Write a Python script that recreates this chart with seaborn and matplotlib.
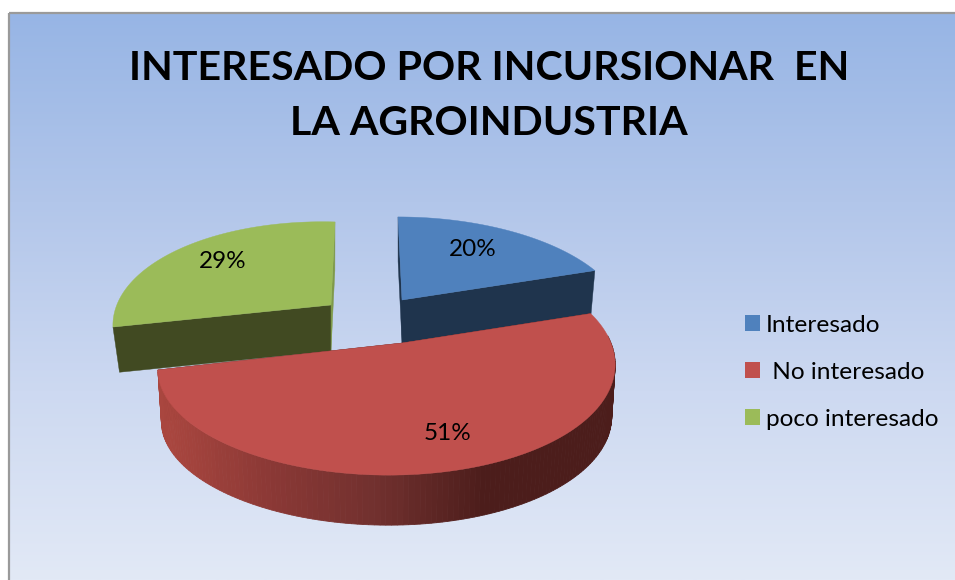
import numpy as np
import matplotlib
matplotlib.use("Agg")
import matplotlib.pyplot as plt
from matplotlib.patches import Patch, Rectangle
import seaborn as sns

categories = ["Interesado", " No interesado", "poco interesado"]
values = [20, 51, 29]
labels = ["20%", "51%", "29%"]
title = "INTERESADO POR INCURSIONAR  EN\nLA AGROINDUSTRIA"
top_colors = ["#4f81bd", "#c0504d", "#9bbb59"]
side_colors = ["#1f344d", "#4c1d1b", "#414a22"]
back_colors = ["#1f344d", "#4c1d1b", "#7f9a4a"]

# layout of the exploded perspective pie (pixels)
apex = [(402, 300), (402, 343), (331, 305)]
center = [(402, 300), (388.5, 343), (331, 305)]
radius_x = [218, 222.5, 212]
radius_y = [102, 102, 102]
skew = [-2, 11, 2]
tilt = [0, 0, 5]
depth = [43, 52, 46]
shrink = [0.98, 0.985, 0.97]
PERSP = 0.228

sns.set_theme(style="white")
plt.rcParams["font.family"] = ["Lato", "DejaVu Sans"]

fig = plt.figure(figsize=(9.55, 5.8), dpi=100, facecolor="white")
ax = fig.add_axes([0, 0, 1, 1])
ax.axis("off")

# background gradient with frame
grad = np.linspace(0, 1, 256)[:, None]
cmap = sns.blend_palette(["#97b5e5", "#b2c6ea", "#cdd9f1", "#e2e9f6"], as_cmap=True)
ax.imshow(grad, extent=(9, 955, 580, 13), cmap=cmap, aspect="auto", zorder=0)
ax.add_patch(Rectangle((8.5, 12.5), 950, 570, fill=False, ec="#9a9a9a", lw=1.6, zorder=1))
ax.set_xlim(0, 955)
ax.set_ylim(580, 0)


def project(theta, i, drop=0.0, scale=1.0):
    X, Y = np.cos(theta), np.sin(theta)
    w = 1 + PERSP * Y
    x = center[i][0] + scale * (radius_x[i] * X / w + skew[i] * Y * (1 + Y))
    y = center[i][1] - scale * radius_y[i] * Y / w + tilt[i] * X + drop
    return x, y


shares = np.array(values, dtype=float) / sum(values)
edges = np.pi / 2 - 2 * np.pi * np.concatenate([[0], np.cumsum(shares)])


def slice_angles(i, n=160):
    return np.linspace(edges[i], edges[i + 1], n)


wall = sns.blend_palette(["#a9463f", "#8a3835", "#70302e", "#4c1d1b", "#4c1d1b"], n_colors=120)


def draw_slice(i, z):
    th = slice_angles(i)
    ax_, ay_ = apex[i]
    d = depth[i]
    s = shrink[i]
    # flat cut faces; the one at twelve o'clock is only a sliver
    for end in (0, -1):
        tx, ty = project(th[end], i)
        bx, by = project(th[end], i, d, s)
        at_top = abs(np.cos(th[end])) < 1e-6
        ax.fill([ax_, tx, bx, ax_], [ay_, ty, by, ay_ + d],
                color=back_colors[i] if at_top else side_colors[i], lw=0.3, zorder=z)
    # outer rim, visible for the front part only
    x, y = project(th, i)
    xb, yb = project(th, i, d, s)
    if i == 1:
        idx = np.where(np.sin(th) < 0.08)[0]
        xmin, xmax = 165.0, 590.0
        for a, b in zip(idx[:-1], idx[1:]):
            f = np.clip((0.5 * (x[a] + x[b]) - xmin) / (xmax - xmin), 0, 1)
            col = wall[int(f * (len(wall) - 1))]
            ax.fill([x[a], x[b], xb[b], xb[a]], [y[a], y[b], yb[b], yb[a]],
                    color=col, lw=0.6, zorder=z)
    # top face
    ax.fill(np.r_[ax_, x], np.r_[ay_, y], color=top_colors[i], lw=0.3, zorder=z + 1)


draw_slice(2, 3)
draw_slice(0, 3)
draw_slice(1, 6)

# value labels
label_pos = [(473, 250), (448, 434), (223, 262)]
for lab, (px, py) in zip(labels, label_pos):
    ax.text(px, py, lab, fontsize=17.5, color="black", ha="center", va="center", zorder=10)

ax.text(489, 96, title, fontsize=29.6, fontweight="bold", color="black", ha="center",
        va="center", linespacing=1.6, zorder=10)

handles = [Patch(facecolor=c, edgecolor="none") for c in top_colors]
leg = ax.legend(handles, categories, loc="center left", bbox_to_anchor=(0.780, 0.358),
                frameon=False, fontsize=17.6, handlelength=0.61, handleheight=0.61,
                handletextpad=0.25, labelspacing=1.06, borderpad=0, borderaxespad=0,
                labelcolor="black")
leg.set_zorder(10)

fig.savefig("out.png", dpi=100)
